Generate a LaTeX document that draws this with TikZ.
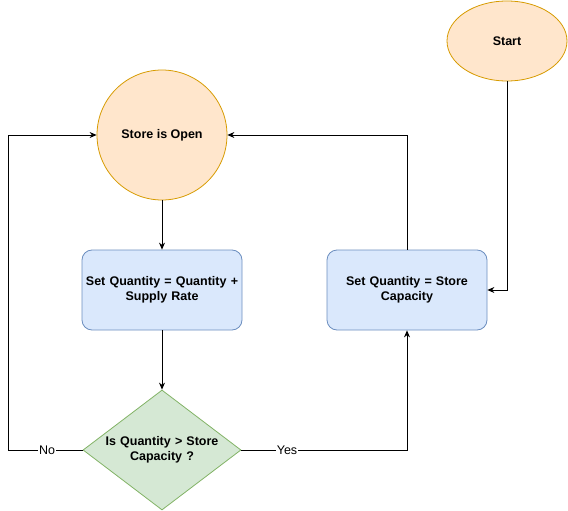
\documentclass[tikz,border=0pt]{standalone}
\usepackage{fontspec}
\setmainfont{Liberation Sans}
\usetikzlibrary{arrows.meta,shapes.geometric}
\definecolor{orfill}{HTML}{FFE6CC}
\definecolor{ordraw}{HTML}{D79B00}
\definecolor{blfill}{HTML}{DAE8FC}
\definecolor{bldraw}{HTML}{6C8EBF}
\definecolor{grfill}{HTML}{D5E8D4}
\definecolor{grdraw}{HTML}{82B366}
\tikzset{
  txt/.style={font=\fontsize{12.5}{15}\selectfont\bfseries, align=center, inner sep=0pt},
  orshape/.style={txt, fill=orfill, draw=ordraw, line width=0.8pt},
  procbox/.style={txt, fill=blfill, draw=bldraw, line width=0.8pt, rounded corners=10pt, minimum width=160pt, minimum height=80pt, text width=158pt},
  decision/.style={txt, diamond, fill=grfill, draw=grdraw, line width=0.8pt, minimum width=158pt, minimum height=120pt, aspect=1.33, text width=120pt},
  conn/.style={line width=0.8pt, -{Stealth[length=7pt,width=6pt]}},
  lbl/.style={font=\fontsize{12.5}{15}\selectfont, fill=white, inner sep=1pt}
}
\begin{document}
\begin{tikzpicture}[x=1pt,y=-1pt]
\useasboundingbox (0,0) rectangle (568,511);
\node[orshape, ellipse, minimum width=120pt, minimum height=80pt] (start) at (507,41) {Start};
\node[orshape, circle, minimum size=130pt] (open) at (162,135) {Store is Open};
\node[procbox] (supply) at (162,290) {Set Quantity = Quantity +\\Supply Rate};
\node[procbox] (cap) at (407,290) {Set Quantity = Store\\Capacity};
\node[decision] (dec) at (162,450) {Is Quantity > Store\\Capacity ?};
\coordinate (lcorner1) at (8,450);
\coordinate (lcorner2) at (8,135);
\coordinate (rcorner) at (407,450);
\coordinate (tcorner) at (407,135);
\coordinate (scorner) at (507,290);

\draw[conn] (start.south) -- (scorner) -- (cap.east);
\draw[conn] (open.south) -- (supply.north);
\draw[conn] (supply.south) -- (dec.north);
\draw[conn] (dec.west) -- (lcorner1) -- (lcorner2) -- (open.west);
\draw[conn] (dec.east) -- (rcorner) -- (cap.south);
\draw[conn] (cap.north) -- (tcorner) -- (open.east);
\node[lbl] (no) at (47,450) {No};
\node[lbl] (yes) at (287,450) {Yes};
\end{tikzpicture}
\end{document}
